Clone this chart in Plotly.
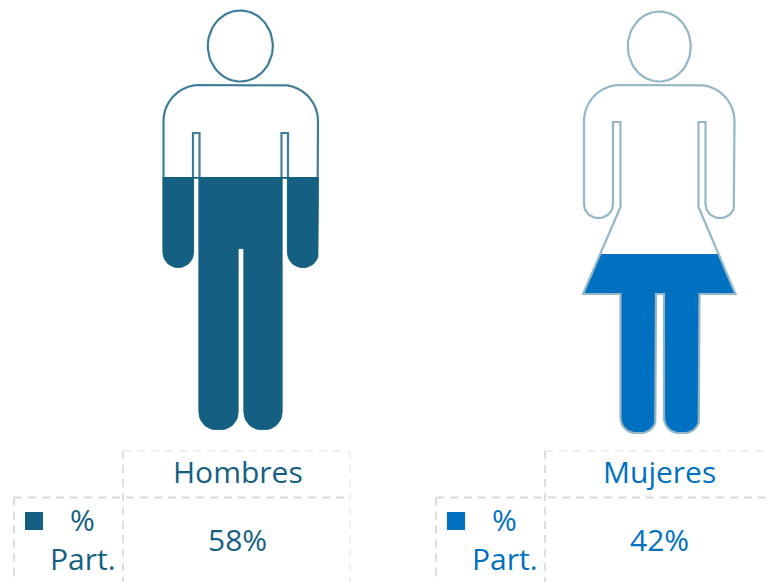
import math
import plotly.graph_objects as go

# ---- data ----
categories = ["Hombres", "Mujeres"]
participation = [58, 42]
row_label = ["%", "Part."]
fill_colors = ["#156082", "#0070C0"]
outline_colors = ["#3F7E9A", "#94B6C6"]

# pictogram geometry (x, y, corner radius), in page pixels
man_body = [(163.5,85,36),(318,85,36),(318,267,15),(288,267,15),(288,133,0),(281.5,133,0),
            (281.5,429,17),(244.5,429,17),(244.5,248,0),(237.5,248,0),(237.5,429,17),
            (199.5,429,17),(199.5,133,0),(193,133,0),(193,267,15),(163.5,267,15)]
woman_body = [(584,85,36),(734.5,85,36),(734.5,218,14),(705.5,218,14),(705.5,122,0),(698.5,122,0),
              (698.5,207,0),(735.5,294,0),(699.5,294,0),(699.5,433,15),(664,433,15),(664,294,0),
              (656,294,0),(656,433,15),(620.5,433,15),(620.5,294,0),(583,294,0),(620.5,207,0),
              (620.5,122,0),(613,122,0),(613,218,14),(584,218,14)]
bodies = [man_body, woman_body]
heads = [(240.3, 46, 32.5, 35.5), (659.3, 46.5, 31.5, 35)]
fill_base = [429, 433]      # level of 0 %
fill_span = [433, 426]      # pixels per 100 %
fill_edge = [1.6, 0]        # the man's fill reaches over its outline

# table layout
table_x = [(14, 123, 350), (436, 545, 767)]
text_cx = [(82.7, 83, 237.5), (504.7, 505, 659.5)]
square_x = [34, 456]


def rounded(poly, steps=10):
    pts = []
    n = len(poly)
    for i, (x, y, r) in enumerate(poly):
        if r == 0:
            pts.append((x, y))
            continue
        px, py, _ = poly[i - 1]
        nx, ny, _ = poly[(i + 1) % n]
        d1 = math.hypot(px - x, py - y)
        d2 = math.hypot(nx - x, ny - y)
        u1 = ((px - x) / d1, (py - y) / d1)
        u2 = ((nx - x) / d2, (ny - y) / d2)
        for k in range(steps + 1):
            t = k / steps
            a = t * math.pi / 2
            c1, c2 = 1 - math.sin(a), 1 - math.cos(a)
            pts.append((x + r * (c1 * u1[0] + c2 * u2[0]), y + r * (c1 * u1[1] + c2 * u2[1])))
    return pts


def clip_below(pts, level):
    """Keep the part of a polygon under a horizontal level (page y grows down)."""
    out = []
    n = len(pts)
    for i in range(n):
        a, b = pts[i], pts[(i + 1) % n]
        ina, inb = a[1] >= level, b[1] >= level
        if ina:
            out.append(a)
        if ina != inb:
            t = (level - a[1]) / (b[1] - a[1])
            out.append((a[0] + t * (b[0] - a[0]), level))
    return out


def ellipse(cx, cy, rx, ry, n=72):
    return [(cx + rx * math.cos(2 * math.pi * i / n), cy + ry * math.sin(2 * math.pi * i / n)) for i in range(n)]


def closed(pts):
    return [p[0] for p in pts] + [pts[0][0]], [p[1] for p in pts] + [pts[0][1]]


fig = go.Figure()
shapes, annotations = [], []
GRID = "#D9D9D9"
FAINT = "#F0F0F0"
TEXT_FONT = "Open Sans"


def dash_line(x0, y0, x1, y1, color=GRID):
    shapes.append(dict(type="line", xref="x", yref="y", x0=x0, y0=y0, x1=x1, y1=y1,
                       line=dict(color=color, width=1.8, dash="8px,6px"), layer="below"))


def label(x, y, text, color, size=30):
    annotations.append(dict(x=x, y=y, xref="x", yref="y", text=text, showarrow=False,
                            xanchor="center", yanchor="middle",
                            font=dict(family=TEXT_FONT, size=size, color=color)))


for i, cat in enumerate(categories):
    body = rounded(bodies[i])
    head = ellipse(*heads[i])
    level = fill_base[i] - participation[i] / 100 * fill_span[i]
    part = clip_below(body, level)

    def add_fill():
        xs, ys = closed(part)
        fig.add_trace(go.Scatter(x=xs, y=ys, mode="lines", fill="toself", fillcolor=fill_colors[i],
                                 line=dict(width=fill_edge[i], color=fill_colors[i]), hoverinfo="skip",
                                 name=cat, showlegend=False))

    def add_outline():
        for shape_pts in (body, head):
            xs, ys = closed(shape_pts)
            fig.add_trace(go.Scatter(x=xs, y=ys, mode="lines", hoverinfo="skip", showlegend=False,
                                     line=dict(color=outline_colors[i], width=2.2)))

    if fill_edge[i]:
        add_outline()
        add_fill()
    else:
        add_fill()
        add_outline()

    x0, x1, x2 = table_x[i]
    dash_line(x1, 451, x2, 451, FAINT)
    if i == 0:
        dash_line(x2, 451, x2, 582, FAINT)
    dash_line(x1, 451, x1, 582)
    dash_line(x0, 497.5, x2, 497.5)
    dash_line(x0, 497.5, x0, 582)

    c_pct, c_part, c_val = text_cx[i]
    label(c_val, 471.5, cat, fill_colors[i])
    label(c_val, 539.5, f"{participation[i]}%", fill_colors[i])
    label(c_pct, 519.5, row_label[0], fill_colors[i])
    label(c_part, 558.5, row_label[1], fill_colors[i])
    fig.add_trace(go.Scatter(x=[square_x[i]], y=[521], mode="markers", hoverinfo="skip", showlegend=False,
                             marker=dict(symbol="square", size=18, color=fill_colors[i], line=dict(width=0))))

fig.update_layout(
    width=767, height=582, margin=dict(l=0, r=0, t=0, b=0),
    paper_bgcolor="white", plot_bgcolor="white", showlegend=False,
    xaxis=dict(range=[0, 767], visible=False, fixedrange=True),
    yaxis=dict(range=[582, 0], visible=False, fixedrange=True),
    shapes=shapes, annotations=annotations,
)
fig.write_html("out.html", config={"displayModeBar": False},
               post_script="document.body.style.margin='0';document.documentElement.style.overflow='hidden';")
